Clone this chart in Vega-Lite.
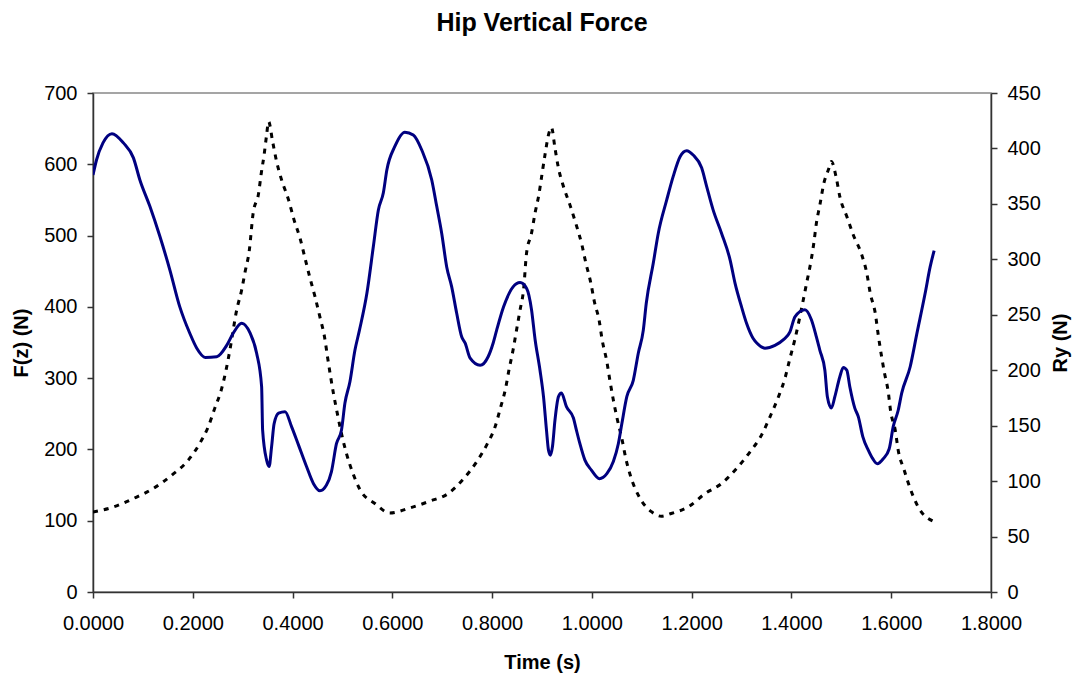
{
  "$schema": "https://vega.github.io/schema/vega-lite/v6.json",
  "autosize": {"type": "none"},
  "width": 898,
  "height": 499,
  "padding": {"left": 93, "top": 93, "right": 87, "bottom": 85},
  "background": "white",
  "title": {
    "text": "Hip Vertical Force",
    "font": "Liberation Sans",
    "fontSize": 25,
    "fontWeight": "bold",
    "color": "black",
    "frame": "group",
    "anchor": "middle",
    "baseline": "alphabetic",
    "offset": 27
  },
  "config": {
    "view": {"stroke": "#888888", "strokeWidth": 1.5},
    "axis": {
      "grid": false,
      "labelFont": "Liberation Sans",
      "labelFontSize": 20,
      "labelColor": "black",
      "titleFont": "Liberation Sans",
      "titleFontSize": 20,
      "titleFontWeight": "bold",
      "titleColor": "black",
      "domainColor": "#333333",
      "domainWidth": 1.5,
      "tickColor": "#333333",
      "tickWidth": 1.5,
      "tickSize": 6
    }
  },
  "datasets": {
    "fz": [
      {"t": 0.000, "F": 585}, {"t": 0.007, "F": 606}, {"t": 0.020, "F": 630}, {"t": 0.038, "F": 643},
      {"t": 0.061, "F": 630}, {"t": 0.081, "F": 609}, {"t": 0.094, "F": 578}, {"t": 0.114, "F": 541},
      {"t": 0.134, "F": 499}, {"t": 0.154, "F": 452}, {"t": 0.174, "F": 400}, {"t": 0.194, "F": 363},
      {"t": 0.208, "F": 342}, {"t": 0.225, "F": 329}, {"t": 0.248, "F": 330}, {"t": 0.268, "F": 346},
      {"t": 0.281, "F": 363}, {"t": 0.298, "F": 377}, {"t": 0.315, "F": 363}, {"t": 0.328, "F": 335},
      {"t": 0.338, "F": 288}, {"t": 0.340, "F": 227}, {"t": 0.348, "F": 185}, {"t": 0.353, "F": 176},
      {"t": 0.358, "F": 204}, {"t": 0.363, "F": 236}, {"t": 0.372, "F": 251}, {"t": 0.385, "F": 253},
      {"t": 0.398, "F": 232}, {"t": 0.412, "F": 206}, {"t": 0.428, "F": 176}, {"t": 0.442, "F": 152},
      {"t": 0.455, "F": 142}, {"t": 0.468, "F": 150}, {"t": 0.478, "F": 169}, {"t": 0.488, "F": 208},
      {"t": 0.498, "F": 227}, {"t": 0.505, "F": 265}, {"t": 0.515, "F": 295}, {"t": 0.525, "F": 339},
      {"t": 0.534, "F": 367}, {"t": 0.549, "F": 419}, {"t": 0.562, "F": 485}, {"t": 0.572, "F": 536},
      {"t": 0.582, "F": 560}, {"t": 0.589, "F": 592}, {"t": 0.605, "F": 625}, {"t": 0.625, "F": 645},
      {"t": 0.642, "F": 641}, {"t": 0.659, "F": 620}, {"t": 0.679, "F": 578}, {"t": 0.689, "F": 541},
      {"t": 0.699, "F": 503}, {"t": 0.709, "F": 456}, {"t": 0.719, "F": 428}, {"t": 0.729, "F": 391},
      {"t": 0.739, "F": 358}, {"t": 0.746, "F": 349}, {"t": 0.756, "F": 328}, {"t": 0.776, "F": 318},
      {"t": 0.792, "F": 330}, {"t": 0.802, "F": 349}, {"t": 0.809, "F": 367}, {"t": 0.823, "F": 400},
      {"t": 0.842, "F": 428}, {"t": 0.856, "F": 434}, {"t": 0.869, "F": 426}, {"t": 0.879, "F": 396},
      {"t": 0.886, "F": 355}, {"t": 0.896, "F": 311}, {"t": 0.903, "F": 274}, {"t": 0.909, "F": 227},
      {"t": 0.913, "F": 199}, {"t": 0.917, "F": 192}, {"t": 0.921, "F": 204}, {"t": 0.926, "F": 241},
      {"t": 0.933, "F": 274}, {"t": 0.939, "F": 279}, {"t": 0.949, "F": 260}, {"t": 0.963, "F": 244},
      {"t": 0.969, "F": 227}, {"t": 0.976, "F": 208}, {"t": 0.986, "F": 185}, {"t": 0.999, "F": 171},
      {"t": 1.015, "F": 159}, {"t": 1.030, "F": 166}, {"t": 1.043, "F": 183}, {"t": 1.053, "F": 208},
      {"t": 1.060, "F": 236}, {"t": 1.070, "F": 274}, {"t": 1.083, "F": 297}, {"t": 1.093, "F": 335},
      {"t": 1.103, "F": 367}, {"t": 1.109, "F": 405}, {"t": 1.123, "F": 461}, {"t": 1.133, "F": 503},
      {"t": 1.150, "F": 550}, {"t": 1.163, "F": 583}, {"t": 1.177, "F": 611}, {"t": 1.190, "F": 619},
      {"t": 1.203, "F": 613}, {"t": 1.220, "F": 595}, {"t": 1.230, "F": 569}, {"t": 1.243, "F": 536},
      {"t": 1.260, "F": 503}, {"t": 1.277, "F": 466}, {"t": 1.287, "F": 433}, {"t": 1.300, "F": 400},
      {"t": 1.310, "F": 377}, {"t": 1.323, "F": 356}, {"t": 1.331, "F": 349}, {"t": 1.347, "F": 342},
      {"t": 1.367, "F": 346}, {"t": 1.384, "F": 354}, {"t": 1.397, "F": 365}, {"t": 1.407, "F": 386},
      {"t": 1.427, "F": 396}, {"t": 1.440, "F": 382}, {"t": 1.450, "F": 358}, {"t": 1.457, "F": 339},
      {"t": 1.467, "F": 311}, {"t": 1.472, "F": 274}, {"t": 1.480, "F": 258}, {"t": 1.487, "F": 274},
      {"t": 1.497, "F": 302}, {"t": 1.504, "F": 315}, {"t": 1.511, "F": 311}, {"t": 1.517, "F": 288},
      {"t": 1.527, "F": 258}, {"t": 1.534, "F": 246}, {"t": 1.543, "F": 218}, {"t": 1.554, "F": 199},
      {"t": 1.563, "F": 187}, {"t": 1.572, "F": 180}, {"t": 1.584, "F": 187}, {"t": 1.596, "F": 201},
      {"t": 1.604, "F": 232}, {"t": 1.614, "F": 255}, {"t": 1.621, "F": 279}, {"t": 1.638, "F": 316},
      {"t": 1.651, "F": 361}, {"t": 1.668, "F": 419}, {"t": 1.678, "F": 456}, {"t": 1.686, "F": 479}
    ],
    "ry": [
      {"t": 0.000, "R": 72.2}, {"t": 0.041, "R": 76.7}, {"t": 0.081, "R": 84.3}, {"t": 0.121, "R": 93.4},
      {"t": 0.158, "R": 105.4}, {"t": 0.191, "R": 118.9}, {"t": 0.214, "R": 134}, {"t": 0.231, "R": 149},
      {"t": 0.244, "R": 165.6}, {"t": 0.258, "R": 183.6}, {"t": 0.267, "R": 200.8}, {"t": 0.275, "R": 219.8},
      {"t": 0.288, "R": 254.3}, {"t": 0.298, "R": 272.4}, {"t": 0.305, "R": 289}, {"t": 0.313, "R": 307},
      {"t": 0.321, "R": 341.6}, {"t": 0.332, "R": 359.7}, {"t": 0.337, "R": 376.8}, {"t": 0.343, "R": 394.3},
      {"t": 0.348, "R": 412.3}, {"t": 0.352, "R": 424.3}, {"t": 0.360, "R": 406.3}, {"t": 0.368, "R": 388.2},
      {"t": 0.378, "R": 371.7}, {"t": 0.392, "R": 353.6}, {"t": 0.403, "R": 335.6}, {"t": 0.415, "R": 319},
      {"t": 0.425, "R": 301}, {"t": 0.435, "R": 283}, {"t": 0.445, "R": 266.3}, {"t": 0.455, "R": 247.7},
      {"t": 0.464, "R": 230.2}, {"t": 0.470, "R": 212.2}, {"t": 0.482, "R": 179}, {"t": 0.490, "R": 160.4},
      {"t": 0.498, "R": 143}, {"t": 0.508, "R": 125}, {"t": 0.521, "R": 107}, {"t": 0.535, "R": 92.5},
      {"t": 0.565, "R": 79.8}, {"t": 0.595, "R": 71.3}, {"t": 0.635, "R": 75.8}, {"t": 0.675, "R": 81.9},
      {"t": 0.712, "R": 88.8}, {"t": 0.742, "R": 101.8}, {"t": 0.769, "R": 117.4}, {"t": 0.789, "R": 132.5},
      {"t": 0.806, "R": 149}, {"t": 0.817, "R": 166.5}, {"t": 0.827, "R": 183.6}, {"t": 0.834, "R": 200.8},
      {"t": 0.842, "R": 218.2}, {"t": 0.849, "R": 236.3}, {"t": 0.856, "R": 254.3}, {"t": 0.863, "R": 272.4},
      {"t": 0.869, "R": 305.5}, {"t": 0.879, "R": 323.6}, {"t": 0.886, "R": 341.6}, {"t": 0.894, "R": 359},
      {"t": 0.900, "R": 376.8}, {"t": 0.906, "R": 394.3}, {"t": 0.913, "R": 412.3}, {"t": 0.919, "R": 418.9},
      {"t": 0.926, "R": 400.3}, {"t": 0.933, "R": 382.3}, {"t": 0.943, "R": 365.7}, {"t": 0.956, "R": 349.1},
      {"t": 0.968, "R": 332}, {"t": 0.980, "R": 313}, {"t": 0.988, "R": 296.5}, {"t": 0.998, "R": 278.4},
      {"t": 1.005, "R": 261.8}, {"t": 1.015, "R": 243.8}, {"t": 1.020, "R": 228.8}, {"t": 1.030, "R": 207.7},
      {"t": 1.036, "R": 191.1}, {"t": 1.043, "R": 173.1}, {"t": 1.051, "R": 155.6}, {"t": 1.060, "R": 138.5},
      {"t": 1.068, "R": 120.4}, {"t": 1.078, "R": 103.8}, {"t": 1.093, "R": 87.3}, {"t": 1.120, "R": 72.2},
      {"t": 1.139, "R": 68.3}, {"t": 1.159, "R": 70.8}, {"t": 1.193, "R": 76.7}, {"t": 1.227, "R": 88.8},
      {"t": 1.260, "R": 97.9}, {"t": 1.290, "R": 111.4}, {"t": 1.317, "R": 126.4}, {"t": 1.340, "R": 141.5},
      {"t": 1.357, "R": 158}, {"t": 1.374, "R": 176.1}, {"t": 1.387, "R": 192.7}, {"t": 1.397, "R": 210.7},
      {"t": 1.407, "R": 228}, {"t": 1.423, "R": 261.8}, {"t": 1.431, "R": 279.9}, {"t": 1.439, "R": 297.9},
      {"t": 1.445, "R": 315.1}, {"t": 1.450, "R": 332.6}, {"t": 1.457, "R": 349.1}, {"t": 1.465, "R": 368.7},
      {"t": 1.474, "R": 380.7}, {"t": 1.480, "R": 388.2}, {"t": 1.490, "R": 373.2}, {"t": 1.497, "R": 356.6},
      {"t": 1.511, "R": 338.6}, {"t": 1.524, "R": 322}, {"t": 1.541, "R": 304}, {"t": 1.551, "R": 287.5},
      {"t": 1.558, "R": 269.4}, {"t": 1.568, "R": 251.4}, {"t": 1.574, "R": 231.8}, {"t": 1.586, "R": 198.6},
      {"t": 1.594, "R": 180.6}, {"t": 1.599, "R": 162.5}, {"t": 1.608, "R": 146}, {"t": 1.614, "R": 127.9},
      {"t": 1.626, "R": 109.9}, {"t": 1.638, "R": 93.4}, {"t": 1.654, "R": 76.7}, {"t": 1.684, "R": 63.8}
    ]
  },
  "layer": [
    {
      "data": {"name": "ry"},
      "mark": {"type": "line", "color": "black", "strokeWidth": 3, "strokeDash": [5, 6], "strokeCap": "butt", "interpolate": "monotone", "clip": true},
      "encoding": {
        "x": {
          "field": "t", "type": "quantitative",
          "scale": {"domain": [0, 1.8], "nice": false, "zero": false},
          "axis": {
            "title": "Time (s)",
            "values": [0, 0.2, 0.4, 0.6, 0.8, 1.0, 1.2, 1.4, 1.6, 1.8],
            "format": ".4f",
            "labelPadding": 15,
            "titlePadding": 19,
            "labelFlush": false
          }
        },
        "y": {
          "field": "R", "type": "quantitative",
          "scale": {"domain": [0, 450], "nice": false},
          "axis": {
            "orient": "right",
            "title": "Ry (N)",
            "values": [0, 50, 100, 150, 200, 250, 300, 350, 400, 450],
            "labelPadding": 10,
            "titlePadding": 30,
            "titleAngle": 270,
            "labelFlush": false
          }
        }
      }
    },
    {
      "data": {"name": "fz"},
      "mark": {"type": "line", "color": "#000080", "strokeWidth": 3, "interpolate": "monotone", "clip": true},
      "encoding": {
        "x": {"field": "t", "type": "quantitative"},
        "y": {
          "field": "F", "type": "quantitative",
          "scale": {"domain": [0, 700], "nice": false},
          "axis": {
            "orient": "left",
            "title": "F(z) (N)",
            "values": [0, 100, 200, 300, 400, 500, 600, 700],
            "labelPadding": 10,
            "titlePadding": 12,
            "labelFlush": false
          }
        }
      }
    }
  ],
  "resolve": {"scale": {"y": "independent"}}
}
